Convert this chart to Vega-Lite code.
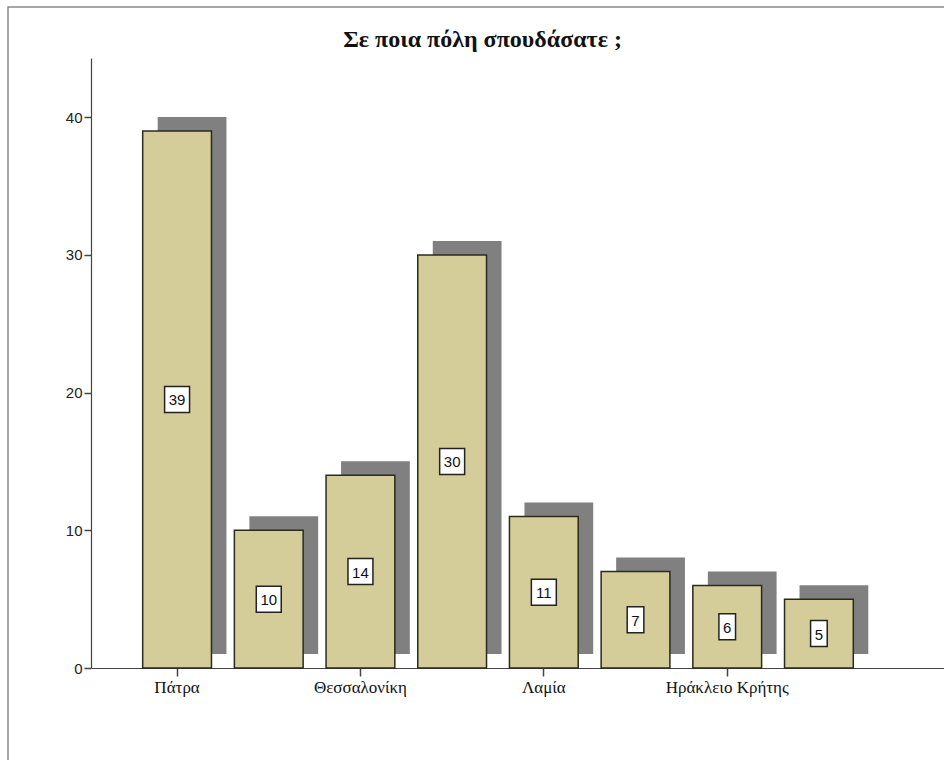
{
  "$schema": "https://vega.github.io/schema/vega-lite/v6.json",
  "autosize": "none",
  "width": 939,
  "height": 756,
  "padding": {"left": 8, "top": 7, "right": -3, "bottom": -3},
  "background": "white",
  "config": {"view": {"stroke": "#8a8a8a", "strokeWidth": 1.5, "fill": "white"}},
  "title": {
    "text": "Σε ποια πόλη σπουδάσατε ;",
    "font": "Liberation Serif",
    "fontSize": 24,
    "fontWeight": "bold",
    "color": "#111",
    "anchor": "middle",
    "frame": "group",
    "offset": 0,
    "baseline": "alphabetic",
    "dy": 64,
    "dx": 5
  },
  "data": {
    "values": [
      {"city": "Πάτρα", "n": 39},
      {"city": "Αθήνα", "n": 10},
      {"city": "Θεσσαλονίκη", "n": 14},
      {"city": "Ιωάννινα", "n": 30},
      {"city": "Λαμία", "n": 11},
      {"city": "Λάρισα", "n": 7},
      {"city": "Ηράκλειο Κρήτης", "n": 6},
      {"city": "Άλλη", "n": 5}
    ]
  },
  "transform": [{"calculate": "datum.n/2", "as": "mid"}],
  "encoding": {
    "x": {
      "field": "city",
      "type": "nominal",
      "sort": null,
      "scale": {"range": [83, 936], "paddingInner": 0.25, "paddingOuter": 0.7765, "align": 0.363},
      "axis": {
        "values": ["Πάτρα", "Θεσσαλονίκη", "Λαμία", "Ηράκλειο Κρήτης"],
        "title": null,
        "offset": -95,
        "labelAngle": 0,
        "tickSize": 8,
        "labelPadding": 3,
        "labelFont": "Liberation Serif",
        "labelFontSize": 17,
        "labelColor": "#111",
        "domainColor": "#444",
        "tickColor": "#444",
        "domainWidth": 1.2,
        "tickWidth": 1.5,
        "grid": false
      }
    }
  },
  "layer": [
    {
      "mark": {"type": "bar", "color": "#808080", "xOffset": 15, "x2Offset": 15, "yOffset": -14, "y2Offset": -14},
      "encoding": {
        "y": {
          "field": "n",
          "type": "quantitative",
          "scale": {"domain": [0, 44.3], "range": [661, 51], "nice": false},
          "axis": {
            "values": [0, 10, 20, 30, 40],
            "title": null,
            "offset": -83,
            "tickSize": 7,
            "labelPadding": 2,
            "labelFont": "Liberation Sans",
            "labelFontSize": 15,
            "labelColor": "#222",
            "domainColor": "#444",
            "tickColor": "#444",
            "domainWidth": 1.2,
            "tickWidth": 1.5,
            "grid": false
          }
        },
        "y2": {"datum": 0}
      }
    },
    {
      "mark": {"type": "bar", "fill": "#d4cd99", "stroke": "#2a2a1e", "strokeWidth": 1.5},
      "encoding": {
        "y": {"field": "n", "type": "quantitative"},
        "y2": {"datum": 0}
      }
    },
    {
      "mark": {"type": "point", "filled": true, "fill": "white", "opacity": 1, "stroke": "#222", "strokeWidth": 1.5, "size": 676},
      "encoding": {
        "y": {"field": "mid", "type": "quantitative"},
        "shape": {
          "condition": {"test": "datum.n >= 10", "value": "M-0.96,-1H0.96V1H-0.96Z"},
          "value": "M-0.64,-1H0.64V1H-0.64Z"
        }
      }
    },
    {
      "mark": {"type": "text", "font": "Liberation Sans", "fontSize": 15, "color": "#111", "baseline": "middle", "align": "center", "dy": 1},
      "encoding": {
        "y": {"field": "mid", "type": "quantitative"},
        "text": {"field": "n", "type": "quantitative"}
      }
    }
  ]
}
